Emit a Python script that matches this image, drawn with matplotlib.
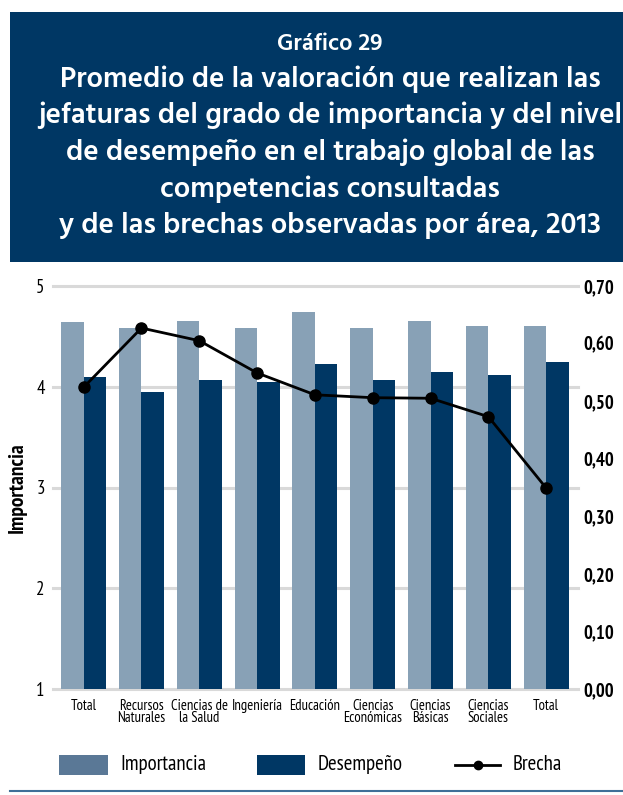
import matplotlib
matplotlib.use("Agg")
import matplotlib.pyplot as plt
import numpy as np
from matplotlib.patches import Rectangle
from matplotlib.lines import Line2D
from matplotlib.ticker import FuncFormatter

categories = ["Total", "Recursos\nNaturales", "Ciencias de\nla Salud", "Ingeniería", "Educación",
              "Ciencias\nEconómicas", "Ciencias\nBásicas", "Ciencias\nSociales", "Total"]
importancia = [4.64, 4.58, 4.65, 4.58, 4.74, 4.58, 4.65, 4.60, 4.60]
desempeno = [4.10, 3.95, 4.07, 4.05, 4.23, 4.07, 4.15, 4.12, 4.25]
brecha = [0.524, 0.627, 0.605, 0.549, 0.511, 0.506, 0.505, 0.473, 0.349]
left_ticks = [1, 2, 3, 4, 5]
right_ticks = [0.0, 0.1, 0.2, 0.3, 0.4, 0.5, 0.6, 0.7]
legend_labels = ["Importancia", "Desempeño", "Brecha"]

title_small = "Gráfico 29"
title_lines = ["Promedio de la valoración que realizan las",
               "jefaturas del grado de importancia y del nivel",
               "de desempeño en el trabajo global de las",
               "competencias consultadas",
               "y de las brechas observadas por área, 2013"]

W, H = 623, 795
fig = plt.figure(figsize=(W / 100, H / 100), dpi=100)
fig.patch.set_facecolor("white")

C_IMP = "#88a1b6"
C_IMP_LEG = "#5a7896"
C_DES = "#003764"
C_BOX = "#003764"
C_GRID = "#d9d9d9"
NARROW = ["PT Sans Narrow", "DejaVu Sans"]
TFONT = ["Hind", "DejaVu Sans"]


def fx(px):
    return px / W


def fy(py):
    return 1 - py / H


# Title box
fig.patches.append(Rectangle((fx(10), fy(262)), (W - 10) / W, 250 / H,
                             transform=fig.transFigure, facecolor=C_BOX, edgecolor="none", zorder=0))
fig.text(fx(330), fy(43), title_small, color="white", fontsize=17, family=TFONT,
         fontweight="semibold", ha="center", va="center")
for i, line in enumerate(title_lines):
    fig.text(fx(330), fy(79 + i * 36.7), line, color="white", fontsize=21, family=TFONT,
             fontweight="semibold", ha="center", va="center")

# Axes
x0, x1, ytop, ybot = 53, 578, 286, 689
ax = fig.add_axes([fx(x0), fy(ybot), (x1 - x0) / W, (ybot - ytop) / H])
x = np.arange(len(categories))
bw = 0.39
ax.bar(x - bw / 2, importancia, width=bw, color=C_IMP, zorder=2)
ax.bar(x + bw / 2, desempeno, width=bw, color=C_DES, zorder=2)
ax.set_xlim(-0.53, 8.55)
ax.set_ylim(1, 5)
ax.set_yticks(left_ticks)
ax.yaxis.grid(True, color=C_GRID, linewidth=2.2, zorder=0)
for gl in ax.get_ygridlines():
    gl.set_clip_on(False)
ax.set_axisbelow(True)
for s in ax.spines.values():
    s.set_visible(False)
ax.tick_params(axis="both", length=0)
ax.tick_params(axis="y", pad=6, labelsize=13.5)
for t in ax.get_yticklabels():
    t.set_family(NARROW)
ax.set_xticks(x)
ax.set_xticklabels(categories, family=NARROW, fontsize=10.5, linespacing=0.82)
ax.tick_params(axis="x", pad=7)
ax.set_ylabel("Importancia", family=NARROW, fontsize=15.5, fontweight="bold", labelpad=7)

ax2 = ax.twinx()
ax2.set_ylim(0, 0.7)
ax2.set_yticks(right_ticks)
ax2.yaxis.set_major_formatter(FuncFormatter(lambda v, p: f"{v:.2f}".replace(".", ",")))
for s in ax2.spines.values():
    s.set_visible(False)
ax2.tick_params(axis="y", length=0, pad=4, labelsize=13.5)
for t in ax2.get_yticklabels():
    t.set_family(NARROW)
    t.set_fontweight("bold")
ax2.plot(x, brecha, color="black", linewidth=2, marker="o", markersize=8, zorder=5)

# Legend (manual)
ly = 765
fig.patches.append(Rectangle((fx(59), fy(775)), 49 / W, 20 / H, transform=fig.transFigure,
                             facecolor=C_IMP_LEG, edgecolor="none"))
fig.patches.append(Rectangle((fx(257), fy(775)), 48 / W, 20 / H, transform=fig.transFigure,
                             facecolor=C_DES, edgecolor="none"))
fig.add_artist(Line2D([fx(455), fx(500)], [fy(ly), fy(ly)], transform=fig.transFigure,
                      color="black", linewidth=2, marker=None))
fig.add_artist(Line2D([fx(477.5)], [fy(ly)], transform=fig.transFigure,
                      color="black", marker="o", markersize=6, linestyle="none"))
for xp, lab in zip([120, 318, 513], legend_labels):
    fig.text(fx(xp), fy(ly), lab, family=NARROW, fontsize=15, ha="left", va="center")

# Bottom line
fig.add_artist(Line2D([fx(10), 1], [fy(791), fy(791)], transform=fig.transFigure,
                      color="#3f6f98", linewidth=1.5))

fig.savefig("out.png", dpi=100)
